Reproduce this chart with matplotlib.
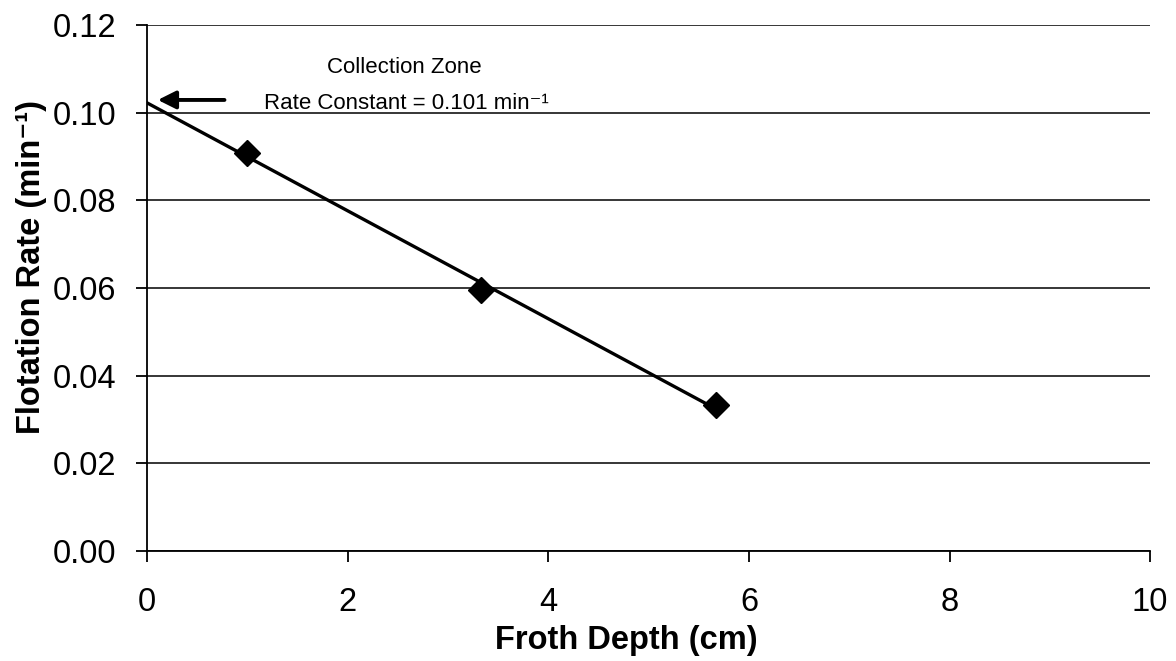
import numpy as np
import matplotlib
matplotlib.use('Agg')
import matplotlib.pyplot as plt

# data
froth_depth = [1.0, 3.33, 5.67]          # cm
flotation_rate = [0.0908, 0.0595, 0.0333]  # 1/min
x_ticks = [0, 2, 4, 6, 8, 10]
y_ticks = [0.00, 0.02, 0.04, 0.06, 0.08, 0.10, 0.12]

plt.rcParams['font.family'] = ['Liberation Sans', 'DejaVu Sans']

fig = plt.figure(figsize=(11.76, 6.61), dpi=100)
ax = fig.add_axes([0.125, 0.1664, 0.853, 0.7958])

# linear fit through the points, extended back to zero depth
slope, intercept = np.polyfit(froth_depth, flotation_rate, 1)
fit_x = np.array([0, froth_depth[-1]])
ax.plot(fit_x, intercept + slope * fit_x, color='black', lw=2.4, zorder=3)
ax.plot(froth_depth, flotation_rate, linestyle='none', marker='D',
        markersize=13, color='black', zorder=4)

ax.set_xlim(0, 10)
ax.set_ylim(0, 0.12)
ax.set_xticks(x_ticks)
ax.set_yticks(y_ticks)
ax.set_yticklabels([f'{v:.2f}' for v in y_ticks])
ax.yaxis.grid(True, color='black', lw=1.1)
ax.set_axisbelow(True)
for s in ['top', 'right']:
    ax.spines[s].set_visible(False)
for s in ['left', 'bottom']:
    ax.spines[s].set_linewidth(1.3)
ax.tick_params(axis='both', labelsize=23.5, length=8, width=1.3, direction='out')
ax.tick_params(axis='x', pad=18)
ax.tick_params(axis='y', pad=14)

ax.set_xlabel('Froth Depth (cm)', fontsize=23.5, fontweight='bold')
ax.xaxis.set_label_coords(0.478, -0.14)
ax.set_ylabel('Flotation Rate (min⁻¹)', fontsize=23.5, fontweight='bold')
ax.yaxis.set_label_coords(-0.1, 0.54)

# annotation with arrow pointing at the intercept
ax.annotate('', xy=(0.08, 0.1029), xytext=(0.8, 0.1029),
            arrowprops=dict(arrowstyle='-|>', color='black', lw=2.8,
                            mutation_scale=27))
ax.text(2.57, 0.1104, 'Collection Zone', fontsize=16, ha='center', va='center')
ax.text(2.59, 0.1022, 'Rate Constant = 0.101 min⁻¹', fontsize=16,
        ha='center', va='center')

fig.savefig('out.png', dpi=100, facecolor='white')
